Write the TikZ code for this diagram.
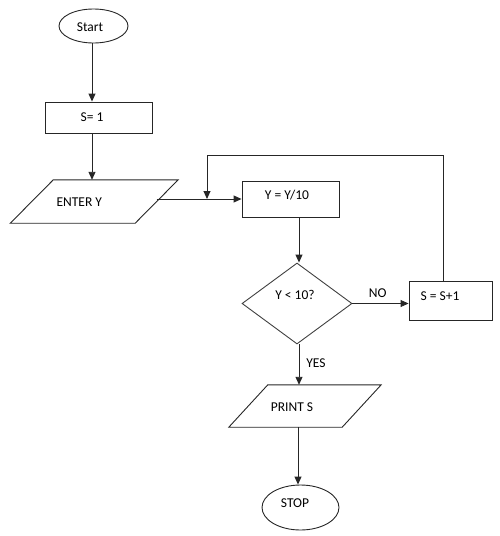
\documentclass[tikz,border=0pt]{standalone}
\usepackage{fontspec}
\setmainfont{Carlito}
\usetikzlibrary{shapes.geometric,arrows.meta}
\begin{document}
\begin{tikzpicture}[x=1pt,y=-1pt,
  every node/.style={font=\fontsize{13.5}{15}\selectfont},
  ln/.style={line width=0.9pt,draw=black!85},
  arr/.style={ln,-{Triangle[length=8pt,width=7pt]}},
  termnode/.style={ellipse,ln,inner sep=0pt},
  procbox/.style={rectangle,ln,inner sep=0pt},
  ionode/.style={rectangle,inner sep=0pt},
  decnode/.style={diamond,ln,draw=black!75,inner sep=0pt},
  txt/.style={inner sep=0pt}]
\useasboundingbox (0,0) rectangle (499,536);

% Start
\node[termnode,minimum width=69pt,minimum height=34pt,
  label={[txt,xshift=-3.5pt,yshift=-1pt]center:Start}] (start) at (93.5,26) {};
% S = 1
\node[procbox,minimum width=107pt,minimum height=31pt,
  label={[txt,xshift=-6.5pt,yshift=0.5pt]center:S= 1}] (s1) at (98.5,117.5) {};
% ENTER Y
\node[ionode,minimum width=124.5pt,minimum height=43pt,
  label={[txt,xshift=-15pt,yshift=-0.5pt]center:ENTER Y}] (ey) at (94.25,201.5) {};
\draw[ln] ([xshift=21.5pt]ey.north west) -- ([xshift=21.5pt]ey.north east)
  -- ([xshift=-21.5pt]ey.south east) -- ([xshift=-21.5pt]ey.south west) -- cycle;
% Y = Y/10
\node[procbox,minimum width=97pt,minimum height=36pt,
  label={[txt,xshift=-3.5pt,yshift=4pt]center:Y = Y/10}] (yb) at (290.5,199) {};
% decision
\node[decnode,minimum width=110pt,minimum height=81pt,
  label={[txt,xshift=-2pt,yshift=8.5pt]center:Y < 10?}] (dia) at (297,303.5) {};
% S = S+1
\node[procbox,minimum width=83pt,minimum height=39pt,
  label={[txt,xshift=-10.5pt,yshift=4.5pt]center:S = S+1}] (sb) at (450.5,300.5) {};
% PRINT S
\node[ionode,minimum width=113pt,minimum height=42pt,
  label={[txt,xshift=-13pt,yshift=-1pt]center:PRINT S}] (ps) at (305,406) {};
\draw[ln] ([xshift=19.5pt]ps.north west) -- ([xshift=19.5pt]ps.north east)
  -- ([xshift=-19.5pt]ps.south east) -- ([xshift=-19.5pt]ps.south west) -- cycle;
% STOP
\node[termnode,minimum width=77pt,minimum height=45pt,
  label={[txt,xshift=-5.5pt,yshift=4.5pt]center:STOP}] (stop) at (300.5,507.5) {};

% connectors
\coordinate (c1) at (92,0);
\draw[arr] (c1 |- start.south) -- (c1 |- s1.north);
\draw[arr] (c1 |- s1.south) -- (c1 |- ey.north);
\draw[arr] (yb.west -| ey.east) -- (yb.west);
\coordinate (c2) at (299,0);
\draw[arr] (c2 |- yb.south) -- (c2 |- dia.north);
\draw[arr] (dia.east) -- (dia.east -| sb.west);
\node[txt] (no) at (377.7,293) {NO};
\coordinate (top) at (443,155);
\coordinate (j) at (207,199);
\draw[arr] (top |- sb.north) -- (top) -| (j);
\draw[arr] (dia.south -| c2) -- (c2 |- ps.north);
\node[txt] (yes) at (316,363) {YES};
\coordinate (c3) at (298,0);
\draw[arr] (c3 |- ps.south) -- (c3 |- stop.north);
\end{tikzpicture}
\end{document}
